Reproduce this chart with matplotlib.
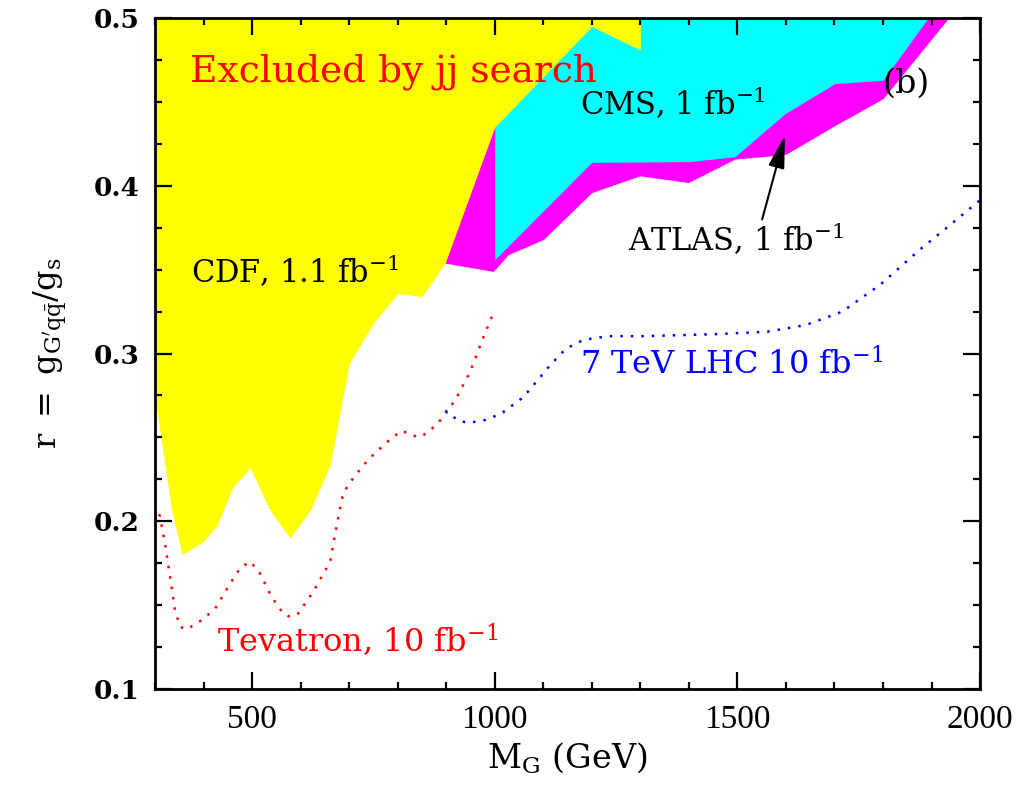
import numpy as np
import matplotlib
matplotlib.use("Agg")
import matplotlib.pyplot as plt
from matplotlib.ticker import MultipleLocator

plt.rcParams['font.family'] = ['DejaVu Serif']
plt.rcParams['mathtext.fontset'] = 'dejavuserif'

# CDF 1.1 fb^-1 exclusion (lower edge of yellow region)
cdf_m = [300, 334, 356, 400, 427, 460, 496, 536, 578, 621, 661, 700, 750,
         801, 850, 898, 1000, 1200, 1300]
cdf_r = [0.274, 0.207, 0.180, 0.188, 0.197, 0.220, 0.232, 0.207, 0.190, 0.207,
         0.234, 0.294, 0.318, 0.336, 0.334, 0.354, 0.435, 0.495, 0.481]

# ATLAS 1 fb^-1 (magenta)
atlas_m = [897, 997, 1028, 1100, 1200, 1299, 1399, 1495, 1575, 1601, 1701,
           1800, 1935]
atlas_r = [0.354, 0.349, 0.359, 0.368, 0.396, 0.406, 0.402, 0.416, 0.418,
           0.419, 0.436, 0.452, 0.500]

# CMS 1 fb^-1 (cyan)
cms_m = [1000, 1200, 1402, 1495, 1598, 1701, 1800, 1893]
cms_r = [0.356, 0.414, 0.4145, 0.4174, 0.443, 0.461, 0.463, 0.500]

# Tevatron 10 fb^-1 reach (red dotted)
tev_m = [300, 310, 321, 331, 341, 352, 365, 396, 424, 451, 475, 496, 516,
         540, 564, 578, 595, 626, 661, 674, 688, 709, 740, 781, 808, 843,
         863, 894, 922, 949, 977, 997]
tev_r = [0.210, 0.203, 0.186, 0.167, 0.147, 0.137, 0.1355, 0.141, 0.148,
         0.161, 0.172, 0.176, 0.169, 0.155, 0.145, 0.143, 0.145, 0.158, 0.176,
         0.197, 0.217, 0.226, 0.237, 0.248, 0.254, 0.250, 0.253, 0.262, 0.274,
         0.289, 0.310, 0.324]

# 7 TeV LHC 10 fb^-1 reach (blue dotted)
lhc_m = [898, 925, 946, 981, 1014, 1059, 1088, 1114, 1147, 1184, 1236, 1310,
         1457, 1561, 1641, 1716, 1794, 1876, 1938, 2000]
lhc_r = [0.266, 0.260, 0.2587, 0.2604, 0.2643, 0.274, 0.284, 0.293, 0.303,
         0.3083, 0.3104, 0.3104, 0.3116, 0.313, 0.317, 0.325, 0.341, 0.362,
         0.3766, 0.3915]

fig = plt.figure(figsize=(10.3, 7.91), dpi=100)
ax = fig.add_axes([0.1505, 0.129, 0.801, 0.848])

# filled exclusion regions (order matters: magenta, cyan, then yellow on top)
ax.fill_between(atlas_m, atlas_r, 0.6, color='#ff00ff', lw=0)
ax.fill_between(cms_m, cms_r, 0.6, color='#00ffff', lw=0)
ax.fill_between(cdf_m, cdf_r, 0.6, color='#ffff00', lw=0)

ax.plot(tev_m, tev_r, color='#ff0000', lw=1.8, dashes=(1, 3.2))
ax.plot(lhc_m, lhc_r, color='#0000ff', lw=1.8, dashes=(1, 3.2))

ax.set_xlim(300, 2000)
ax.set_ylim(0.1, 0.5)

# labels
ax.text(372, 0.468, 'Excluded by jj search', color='#ff0000', fontsize=27,
        va='center')
ax.text(375, 0.349, r'CDF, 1.1 fb$^{-1}$', color='k', fontsize=22,
        va='center')
ax.text(1176, 0.449, r'CMS, 1 fb$^{-1}$', color='k', fontsize=22,
        va='center')
ax.text(1275, 0.368, r'ATLAS, 1 fb$^{-1}$', color='k', fontsize=22,
        va='center')
ax.text(1798, 0.461, '(b)', color='k', fontsize=24, va='center')
ax.text(427, 0.129, r'Tevatron, 10 fb$^{-1}$', color='#ff0000', fontsize=23,
        va='center')
ax.text(1176, 0.293, r'7 TeV LHC 10 fb$^{-1}$', color='#0000ff', fontsize=23,
        va='center')

ax.annotate('', xy=(1598, 0.430), xytext=(1551, 0.380),
            arrowprops=dict(arrowstyle='-|>,head_length=1.0,head_width=0.25',
                            color='k', lw=1.5, mutation_scale=20,
                            shrinkA=0, shrinkB=0))

# axes styling
ax.xaxis.set_major_locator(MultipleLocator(500))
ax.xaxis.set_minor_locator(MultipleLocator(100))
ax.yaxis.set_major_locator(MultipleLocator(0.1))
ax.yaxis.set_minor_locator(MultipleLocator(0.025))
ax.tick_params(which='both', direction='in', top=True, right=True, width=1.6)
ax.tick_params(which='major', length=12)
ax.tick_params(which='minor', length=5)
ax.tick_params(axis='x', which='major', pad=11, labelsize=24,
               labelfontfamily='Liberation Serif')
ax.tick_params(axis='y', which='major', pad=11, labelsize=19)
for lab in ax.get_yticklabels():
    lab.set_fontweight('bold')

for sp in ax.spines.values():
    sp.set_linewidth(2)

ax.set_xlabel(r'M$_{\mathrm{G}}$ (GeV)', fontsize=24, labelpad=4)
ax.set_ylabel(r"$\mathrm{r\ =\ g}_{\mathrm{G'q\bar{q}}}/\mathrm{g}_{\mathrm{s}}$",
              fontsize=23, labelpad=18)

fig.savefig('out.png', dpi=100)
